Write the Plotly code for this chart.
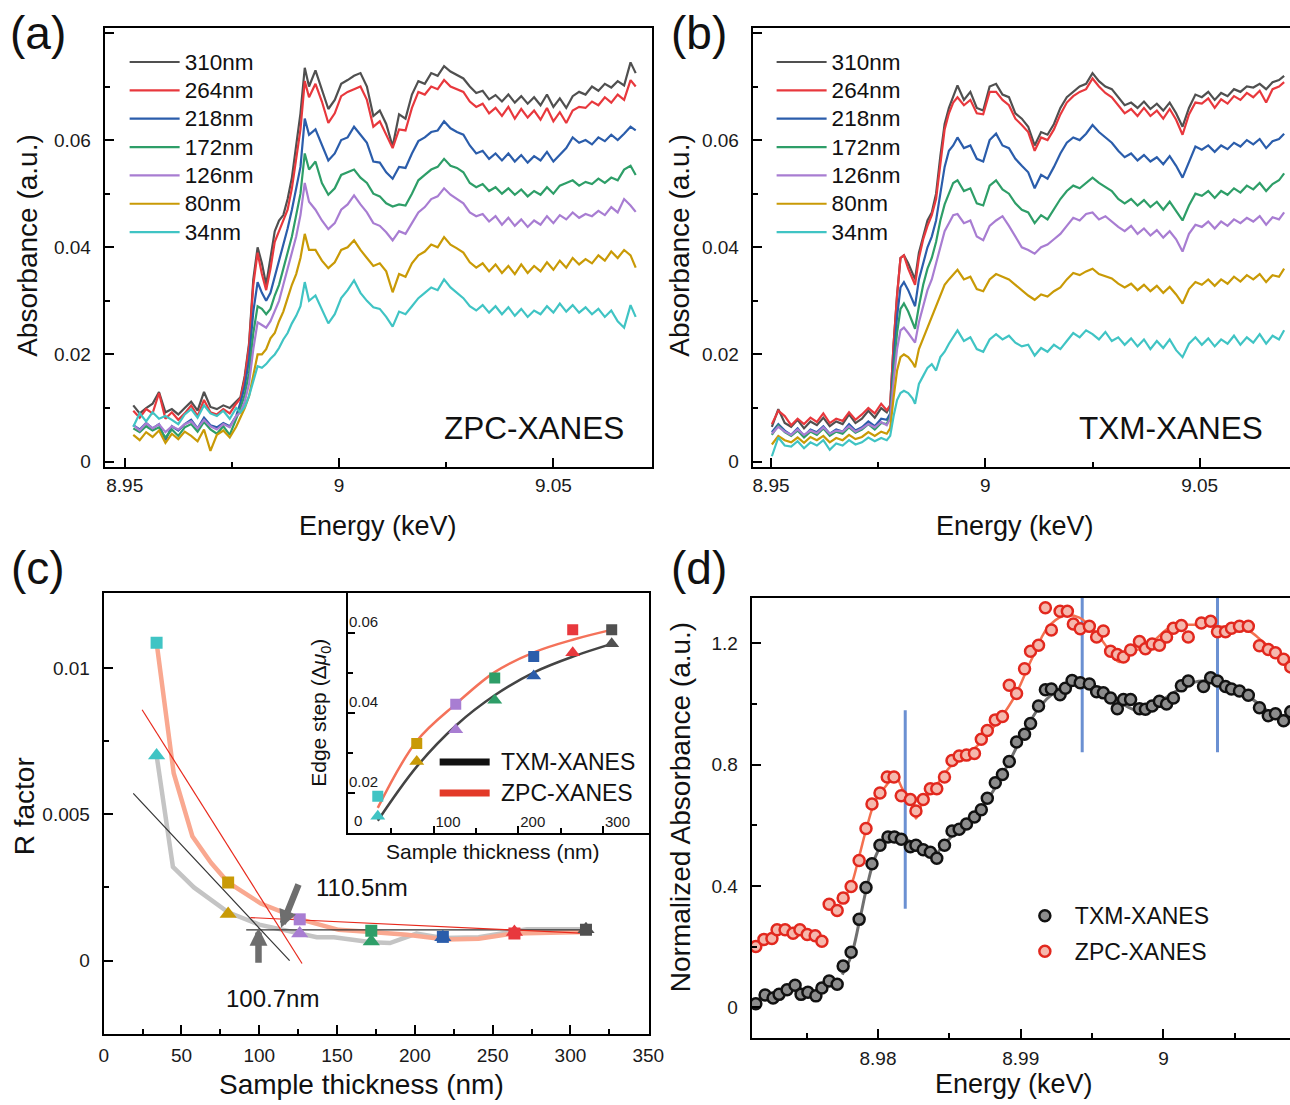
import plotly.graph_objects as go

FONT = "Liberation Sans, Arial, Helvetica, sans-serif"
# target picture size; the page is captured 1306 px wide and fitted to 1290
W_REF, H_REF = 1290, 1105
FW, FH = 1306, 1105


def px(x):
    return min(1.0, x / W_REF)


def py(y):
    return 1 - y / H_REF


def big(s, size):
    return '<span style="font-size:%spx">%s</span>' % (size, s)


LABELS = ['310nm', '264nm', '218nm', '172nm', '126nm', '80nm', '34nm']
COLS = ['#505050', '#e8383d', '#2b5dab', '#2e9e68', '#a87dd2', '#c99a06', '#40c4c4']

# ---------------- panel (a): ZPC-XANES ----------------
E_A = ([8.9520, 8.9535, 8.9550, 8.9565, 8.9580, 8.9595, 8.9610, 8.9625, 8.9640, 8.9655,
        8.9670, 8.9685, 8.9700, 8.9715, 8.9730, 8.9745, 8.9760]
       + [8.9770, 8.9780, 8.9790, 8.9800, 8.9810, 8.9820, 8.9830, 8.9840, 8.9850, 8.9860,
          8.9870, 8.9880, 8.9890, 8.9900, 8.9910, 8.9920, 8.9930]
       + [8.9945, 8.9960, 8.9975, 8.9990, 9.0005, 9.0020, 9.0035, 9.0050, 9.0065, 9.0080,
          9.0095, 9.0110, 9.0125, 9.0140, 9.0155, 9.0170, 9.0185, 9.0200, 9.0215, 9.0230,
          9.0245, 9.0260, 9.0275, 9.0290, 9.0305, 9.0320, 9.0335, 9.0350, 9.0365, 9.0380,
          9.0395, 9.0410, 9.0425, 9.0440, 9.0455, 9.0470, 9.0485, 9.0500, 9.0515, 9.0530,
          9.0545, 9.0560, 9.0575, 9.0590, 9.0605, 9.0620, 9.0635, 9.0650, 9.0665, 9.0680,
          9.0692])

A_310 = ([0.0105, 0.0090, 0.0100, 0.0108, 0.0130, 0.0092, 0.0098, 0.0088, 0.0100, 0.0112,
          0.0095, 0.0130, 0.0102, 0.0098, 0.0105, 0.0100, 0.0112]
         + [0.0120, 0.0160, 0.0220, 0.0340, 0.0400, 0.0370, 0.0330, 0.0380, 0.0430, 0.0450,
            0.0460, 0.0490, 0.0530, 0.0590, 0.0650, 0.0735, 0.0700]
         + [0.0730, 0.0695, 0.0658, 0.0675, 0.0705, 0.0712, 0.0720, 0.0725, 0.0700, 0.0645,
            0.0655, 0.0630, 0.0588, 0.0648, 0.0640, 0.0685, 0.0710, 0.0705, 0.0725, 0.0720,
            0.0738, 0.0728, 0.0722, 0.0715, 0.0700, 0.0688, 0.0692, 0.0676, 0.0684, 0.0672,
            0.0685, 0.0670, 0.0682, 0.0668, 0.0680, 0.0665, 0.0685, 0.0662, 0.0678, 0.0660,
            0.0682, 0.0690, 0.0685, 0.0700, 0.0692, 0.0705, 0.0698, 0.0710, 0.0702, 0.0745,
            0.0725])
A_264 = ([0.0095, 0.0082, 0.0098, 0.0090, 0.0128, 0.0080, 0.0092, 0.0078, 0.0090, 0.0105,
          0.0085, 0.0115, 0.0092, 0.0088, 0.0098, 0.0090, 0.0108]
         + [0.0118, 0.0155, 0.0215, 0.0330, 0.0390, 0.0350, 0.0320, 0.0360, 0.0410, 0.0430,
            0.0450, 0.0470, 0.0510, 0.0570, 0.0620, 0.0710, 0.0680]
         + [0.0705, 0.0672, 0.0632, 0.0650, 0.0682, 0.0690, 0.0695, 0.0700, 0.0675, 0.0625,
            0.0635, 0.0610, 0.0585, 0.0620, 0.0618, 0.0660, 0.0690, 0.0685, 0.0700, 0.0695,
            0.0712, 0.0700, 0.0695, 0.0690, 0.0672, 0.0662, 0.0668, 0.0650, 0.0660, 0.0645,
            0.0662, 0.0640, 0.0658, 0.0642, 0.0655, 0.0638, 0.0660, 0.0635, 0.0652, 0.0632,
            0.0655, 0.0662, 0.0660, 0.0672, 0.0665, 0.0680, 0.0670, 0.0685, 0.0675, 0.0712,
            0.0700])
A_218 = ([0.0068, 0.0060, 0.0072, 0.0062, 0.0070, 0.0040, 0.0066, 0.0058, 0.0070, 0.0078,
          0.0062, 0.0082, 0.0068, 0.0064, 0.0072, 0.0066, 0.0085]
         + [0.0110, 0.0140, 0.0190, 0.0280, 0.0335, 0.0315, 0.0300, 0.0315, 0.0345, 0.0370,
            0.0400, 0.0435, 0.0470, 0.0510, 0.0550, 0.0640, 0.0610]
         + [0.0620, 0.0590, 0.0562, 0.0575, 0.0600, 0.0605, 0.0625, 0.0610, 0.0595, 0.0560,
            0.0558, 0.0540, 0.0528, 0.0550, 0.0548, 0.0575, 0.0598, 0.0605, 0.0615, 0.0618,
            0.0635, 0.0622, 0.0615, 0.0610, 0.0590, 0.0575, 0.0580, 0.0565, 0.0575, 0.0562,
            0.0575, 0.0560, 0.0572, 0.0558, 0.0570, 0.0562, 0.0578, 0.0560, 0.0572, 0.0585,
            0.0605, 0.0595, 0.0600, 0.0592, 0.0605, 0.0598, 0.0610, 0.0600, 0.0612, 0.0625,
            0.0618])
A_172 = ([0.0062, 0.0055, 0.0066, 0.0058, 0.0064, 0.0045, 0.0060, 0.0048, 0.0064, 0.0070,
          0.0056, 0.0074, 0.0060, 0.0052, 0.0066, 0.0050, 0.0080]
         + [0.0100, 0.0125, 0.0165, 0.0240, 0.0290, 0.0285, 0.0275, 0.0285, 0.0310, 0.0330,
            0.0360, 0.0390, 0.0420, 0.0460, 0.0500, 0.0575, 0.0545]
         + [0.0560, 0.0520, 0.0498, 0.0510, 0.0535, 0.0540, 0.0545, 0.0530, 0.0520, 0.0500,
            0.0495, 0.0482, 0.0476, 0.0480, 0.0478, 0.0500, 0.0525, 0.0535, 0.0545, 0.0550,
            0.0565, 0.0552, 0.0548, 0.0540, 0.0520, 0.0512, 0.0518, 0.0505, 0.0512, 0.0500,
            0.0510, 0.0498, 0.0508, 0.0495, 0.0505, 0.0498, 0.0512, 0.0500, 0.0515, 0.0520,
            0.0525, 0.0515, 0.0522, 0.0518, 0.0528, 0.0520, 0.0530, 0.0525, 0.0545, 0.0552,
            0.0535])
A_126 = ([0.0068, 0.0058, 0.0072, 0.0062, 0.0070, 0.0055, 0.0066, 0.0060, 0.0070, 0.0075,
          0.0062, 0.0078, 0.0066, 0.0060, 0.0070, 0.0064, 0.0085]
         + [0.0092, 0.0112, 0.0145, 0.0210, 0.0260, 0.0255, 0.0250, 0.0262, 0.0280, 0.0300,
            0.0330, 0.0360, 0.0390, 0.0420, 0.0460, 0.0520, 0.0485]
         + [0.0470, 0.0450, 0.0434, 0.0445, 0.0470, 0.0480, 0.0497, 0.0480, 0.0465, 0.0445,
            0.0440, 0.0428, 0.0413, 0.0430, 0.0425, 0.0445, 0.0465, 0.0475, 0.0490, 0.0495,
            0.0510, 0.0498, 0.0490, 0.0482, 0.0465, 0.0458, 0.0462, 0.0448, 0.0458, 0.0442,
            0.0455, 0.0440, 0.0452, 0.0438, 0.0450, 0.0442, 0.0458, 0.0445, 0.0460, 0.0452,
            0.0465, 0.0455, 0.0462, 0.0458, 0.0468, 0.0460, 0.0475, 0.0465, 0.0490, 0.0478,
            0.0466])
A_80 = ([0.0050, 0.0040, 0.0055, 0.0046, 0.0058, 0.0035, 0.0052, 0.0042, 0.0056, 0.0048,
         0.0038, 0.0060, 0.0020, 0.0050, 0.0058, 0.0045, 0.0065]
        + [0.0082, 0.0100, 0.0122, 0.0160, 0.0200, 0.0200, 0.0210, 0.0230, 0.0240, 0.0262,
           0.0280, 0.0305, 0.0330, 0.0350, 0.0380, 0.0425, 0.0395]
        + [0.0395, 0.0375, 0.0361, 0.0372, 0.0395, 0.0400, 0.0413, 0.0395, 0.0380, 0.0365,
           0.0370, 0.0355, 0.0316, 0.0350, 0.0345, 0.0370, 0.0385, 0.0392, 0.0405, 0.0400,
           0.0419, 0.0405, 0.0398, 0.0390, 0.0372, 0.0362, 0.0370, 0.0355, 0.0368, 0.0352,
           0.0365, 0.0350, 0.0368, 0.0352, 0.0365, 0.0355, 0.0372, 0.0358, 0.0375, 0.0362,
           0.0380, 0.0368, 0.0378, 0.0370, 0.0385, 0.0375, 0.0392, 0.0380, 0.0395, 0.0385,
           0.0362])
A_34 = ([0.0065, 0.0090, 0.0075, 0.0092, 0.0080, 0.0085, 0.0078, 0.0070, 0.0088, 0.0098,
         0.0082, 0.0105, 0.0090, 0.0085, 0.0095, 0.0080, 0.0100]
        + [0.0092, 0.0102, 0.0122, 0.0150, 0.0178, 0.0175, 0.0182, 0.0192, 0.0200, 0.0212,
           0.0228, 0.0240, 0.0258, 0.0272, 0.0290, 0.0335, 0.0300]
        + [0.0310, 0.0285, 0.0258, 0.0275, 0.0305, 0.0320, 0.0338, 0.0315, 0.0300, 0.0288,
           0.0285, 0.0270, 0.0252, 0.0280, 0.0275, 0.0290, 0.0305, 0.0315, 0.0325, 0.0320,
           0.0340, 0.0325, 0.0315, 0.0305, 0.0290, 0.0282, 0.0292, 0.0278, 0.0290, 0.0275,
           0.0288, 0.0272, 0.0285, 0.0270, 0.0282, 0.0275, 0.0290, 0.0278, 0.0295, 0.0280,
           0.0292, 0.0278, 0.0288, 0.0275, 0.0285, 0.0270, 0.0282, 0.0262, 0.0250, 0.0292,
           0.0270])
A_SERIES = [A_310, A_264, A_218, A_172, A_126, A_80, A_34]

# ---------------- panel (b): TXM-XANES ----------------
E_B = ([8.9502, 8.9517, 8.9532, 8.9547, 8.9562, 8.9577, 8.9592, 8.9607, 8.9622, 8.9637,
        8.9652, 8.9667, 8.9682, 8.9697, 8.9712, 8.9727, 8.9742, 8.9757, 8.9770]
       + [8.9778, 8.9786, 8.9794, 8.9802, 8.9810, 8.9820, 8.9830, 8.9836, 8.9845, 8.9855,
          8.9865, 8.9875, 8.9885, 8.9895, 8.9905, 8.9915, 8.9925, 8.9935]
       + [8.9950, 8.9965, 8.9980, 8.9995, 9.0010, 9.0025, 9.0040, 9.0055, 9.0070, 9.0085,
          9.0100, 9.0115, 9.0130, 9.0145, 9.0160, 9.0175, 9.0190, 9.0205, 9.0220, 9.0235,
          9.0250, 9.0265, 9.0280, 9.0295, 9.0310, 9.0325, 9.0340, 9.0355, 9.0370, 9.0385,
          9.0400, 9.0415, 9.0430, 9.0445, 9.0460, 9.0475, 9.0490, 9.0505, 9.0520, 9.0535,
          9.0550, 9.0565, 9.0580, 9.0595, 9.0610, 9.0625, 9.0640, 9.0655, 9.0670, 9.0685,
          9.0697])

B_310 = ([0.0065, 0.0098, 0.0072, 0.0065, 0.0078, 0.0062, 0.0075, 0.0068, 0.0082, 0.0066,
          0.0075, 0.0070, 0.0088, 0.0072, 0.0080, 0.0095, 0.0082, 0.0100, 0.0092]
         + [0.0105, 0.0220, 0.0310, 0.0380, 0.0385, 0.0370, 0.0350, 0.0340, 0.0390, 0.0420,
            0.0450, 0.0465, 0.0500, 0.0570, 0.0630, 0.0660, 0.0680, 0.0702]
         + [0.0675, 0.0690, 0.0660, 0.0655, 0.0700, 0.0705, 0.0685, 0.0680, 0.0650, 0.0640,
            0.0625, 0.0590, 0.0615, 0.0610, 0.0630, 0.0660, 0.0680, 0.0690, 0.0700, 0.0705,
            0.0725, 0.0710, 0.0700, 0.0695, 0.0680, 0.0665, 0.0670, 0.0660, 0.0672, 0.0658,
            0.0668, 0.0655, 0.0670, 0.0650, 0.0625, 0.0660, 0.0685, 0.0680, 0.0690, 0.0675,
            0.0688, 0.0682, 0.0695, 0.0690, 0.0700, 0.0698, 0.0705, 0.0695, 0.0708, 0.0712,
            0.0720])
B_264 = ([0.0070, 0.0095, 0.0085, 0.0068, 0.0080, 0.0070, 0.0082, 0.0074, 0.0090, 0.0072,
          0.0080, 0.0076, 0.0092, 0.0078, 0.0088, 0.0100, 0.0090, 0.0108, 0.0096]
         + [0.0105, 0.0220, 0.0310, 0.0380, 0.0385, 0.0360, 0.0340, 0.0330, 0.0380, 0.0415,
            0.0440, 0.0460, 0.0490, 0.0560, 0.0620, 0.0650, 0.0670, 0.0680]
         + [0.0665, 0.0675, 0.0650, 0.0648, 0.0690, 0.0690, 0.0675, 0.0665, 0.0640, 0.0628,
            0.0615, 0.0580, 0.0605, 0.0600, 0.0620, 0.0648, 0.0670, 0.0682, 0.0690, 0.0695,
            0.0715, 0.0700, 0.0688, 0.0680, 0.0665, 0.0650, 0.0658, 0.0645, 0.0660, 0.0645,
            0.0655, 0.0640, 0.0658, 0.0638, 0.0610, 0.0648, 0.0670, 0.0668, 0.0678, 0.0660,
            0.0676, 0.0668, 0.0682, 0.0675, 0.0688, 0.0680, 0.0692, 0.0670, 0.0695, 0.0700,
            0.0708])
B_218 = ([0.0055, 0.0070, 0.0058, 0.0050, 0.0062, 0.0048, 0.0060, 0.0055, 0.0066, 0.0052,
          0.0060, 0.0056, 0.0070, 0.0058, 0.0064, 0.0075, 0.0066, 0.0080, 0.0078]
         + [0.0090, 0.0190, 0.0270, 0.0325, 0.0335, 0.0320, 0.0300, 0.0290, 0.0340, 0.0370,
            0.0400, 0.0420, 0.0450, 0.0500, 0.0550, 0.0580, 0.0590, 0.0605]
         + [0.0585, 0.0590, 0.0565, 0.0560, 0.0600, 0.0612, 0.0590, 0.0585, 0.0565, 0.0552,
            0.0540, 0.0510, 0.0535, 0.0528, 0.0550, 0.0575, 0.0595, 0.0605, 0.0600, 0.0612,
            0.0628, 0.0615, 0.0605, 0.0595, 0.0580, 0.0568, 0.0575, 0.0562, 0.0572, 0.0560,
            0.0568, 0.0555, 0.0570, 0.0552, 0.0530, 0.0560, 0.0588, 0.0582, 0.0590, 0.0578,
            0.0590, 0.0583, 0.0595, 0.0588, 0.0600, 0.0592, 0.0602, 0.0585, 0.0598, 0.0602,
            0.0612])
B_172 = ([0.0050, 0.0068, 0.0055, 0.0048, 0.0058, 0.0045, 0.0056, 0.0050, 0.0062, 0.0048,
          0.0056, 0.0052, 0.0064, 0.0054, 0.0060, 0.0070, 0.0060, 0.0072, 0.0070]
         + [0.0085, 0.0170, 0.0240, 0.0285, 0.0295, 0.0280, 0.0260, 0.0248, 0.0290, 0.0330,
            0.0360, 0.0380, 0.0410, 0.0450, 0.0480, 0.0500, 0.0520, 0.0525]
         + [0.0505, 0.0510, 0.0482, 0.0478, 0.0515, 0.0525, 0.0508, 0.0500, 0.0482, 0.0470,
            0.0465, 0.0445, 0.0460, 0.0452, 0.0470, 0.0490, 0.0505, 0.0515, 0.0510, 0.0520,
            0.0530, 0.0520, 0.0512, 0.0505, 0.0490, 0.0482, 0.0490, 0.0478, 0.0488, 0.0475,
            0.0485, 0.0470, 0.0485, 0.0468, 0.0450, 0.0478, 0.0500, 0.0496, 0.0505, 0.0492,
            0.0505, 0.0498, 0.0510, 0.0502, 0.0515, 0.0508, 0.0520, 0.0505, 0.0518, 0.0525,
            0.0538])
B_126 = ([0.0052, 0.0065, 0.0056, 0.0050, 0.0060, 0.0050, 0.0058, 0.0053, 0.0064, 0.0052,
          0.0058, 0.0056, 0.0066, 0.0056, 0.0062, 0.0070, 0.0064, 0.0074, 0.0068]
         + [0.0080, 0.0150, 0.0210, 0.0245, 0.0250, 0.0240, 0.0228, 0.0222, 0.0260, 0.0290,
            0.0320, 0.0340, 0.0370, 0.0400, 0.0430, 0.0445, 0.0460, 0.0462]
         + [0.0445, 0.0450, 0.0420, 0.0413, 0.0440, 0.0450, 0.0458, 0.0440, 0.0420, 0.0400,
            0.0395, 0.0388, 0.0400, 0.0405, 0.0415, 0.0425, 0.0440, 0.0455, 0.0450, 0.0462,
            0.0465, 0.0452, 0.0458, 0.0448, 0.0438, 0.0430, 0.0440, 0.0425, 0.0435, 0.0422,
            0.0432, 0.0418, 0.0430, 0.0415, 0.0392, 0.0425, 0.0442, 0.0438, 0.0448, 0.0435,
            0.0448, 0.0440, 0.0452, 0.0445, 0.0455, 0.0448, 0.0458, 0.0442, 0.0456, 0.0452,
            0.0465])
B_80 = ([0.0032, 0.0048, 0.0040, 0.0036, 0.0045, 0.0035, 0.0046, 0.0040, 0.0048, 0.0036,
         0.0044, 0.0040, 0.0050, 0.0042, 0.0046, 0.0055, 0.0048, 0.0056, 0.0052]
        + [0.0062, 0.0120, 0.0170, 0.0195, 0.0200, 0.0195, 0.0185, 0.0176, 0.0210, 0.0230,
           0.0250, 0.0270, 0.0290, 0.0310, 0.0330, 0.0340, 0.0350, 0.0358]
        + [0.0340, 0.0345, 0.0322, 0.0318, 0.0340, 0.0350, 0.0345, 0.0340, 0.0330, 0.0320,
           0.0310, 0.0302, 0.0312, 0.0308, 0.0318, 0.0325, 0.0340, 0.0352, 0.0348, 0.0355,
           0.0360, 0.0350, 0.0346, 0.0342, 0.0332, 0.0325, 0.0332, 0.0320, 0.0330, 0.0318,
           0.0328, 0.0315, 0.0326, 0.0312, 0.0295, 0.0322, 0.0335, 0.0330, 0.0340, 0.0328,
           0.0340, 0.0332, 0.0345, 0.0336, 0.0348, 0.0340, 0.0350, 0.0335, 0.0348, 0.0345,
           0.0360])
B_34 = ([0.0010, 0.0045, 0.0030, 0.0028, 0.0038, 0.0025, 0.0036, 0.0030, 0.0040, 0.0022,
         0.0034, 0.0030, 0.0040, 0.0032, 0.0036, 0.0045, 0.0038, 0.0044, 0.0040]
        + [0.0048, 0.0085, 0.0115, 0.0128, 0.0132, 0.0128, 0.0118, 0.0108, 0.0145, 0.0160,
           0.0175, 0.0182, 0.0170, 0.0195, 0.0205, 0.0220, 0.0232, 0.0245]
        + [0.0225, 0.0232, 0.0210, 0.0205, 0.0228, 0.0238, 0.0228, 0.0235, 0.0222, 0.0215,
           0.0218, 0.0198, 0.0212, 0.0205, 0.0218, 0.0210, 0.0225, 0.0240, 0.0232, 0.0245,
           0.0238, 0.0228, 0.0242, 0.0225, 0.0232, 0.0218, 0.0230, 0.0215, 0.0228, 0.0210,
           0.0225, 0.0212, 0.0228, 0.0208, 0.0195, 0.0220, 0.0232, 0.0218, 0.0230, 0.0215,
           0.0228, 0.0220, 0.0235, 0.0218, 0.0232, 0.0222, 0.0238, 0.0220, 0.0235, 0.0228,
           0.0245])
B_SERIES = [B_310, B_264, B_218, B_172, B_126, B_80, B_34]

# ---------------- panel (c): R factor vs thickness ----------------
THICK = [34, 80, 126, 172, 218, 264, 310]
PT_COLS = ['#40c4c4', '#c99a06', '#a87dd2', '#2e9e68', '#2b5dab', '#e8383d', '#505050']
R_ZPC = [0.01086, 0.00267, 0.00141, 0.00102, 0.00081, 0.00093, 0.00105]
R_TXM = [0.00701, 0.00159, 0.00093, 0.00065, 0.00080, 0.00098, 0.00107]

ZPC_TREND_X = [34, 40, 45, 57, 69, 80, 101, 127, 151, 172, 195, 220, 241, 264, 310]
ZPC_TREND_Y = [0.01086, 0.0085, 0.0064, 0.00425, 0.00334, 0.00267, 0.00195, 0.0014,
               0.00105, 0.00098, 0.00088, 0.00072, 0.00075, 0.00093, 0.00098]
TXM_TREND_X = [34, 44.5, 58, 80, 100, 127, 137, 148, 172, 184, 201, 218, 241, 272, 310]
TXM_TREND_Y = [0.00701, 0.0032, 0.0025, 0.00165, 0.00123, 0.00093, 0.0008, 0.0008,
               0.00063, 0.0006, 0.00092, 0.00077, 0.0008, 0.00107, 0.00107]

FIT_TXM_STEEP_X = [19, 119.5]
FIT_TXM_STEEP_Y = [0.00571, 0.0]
FIT_TXM_FLAT_X = [91.6, 310]
FIT_TXM_FLAT_Y = [0.00105, 0.00105]
FIT_ZPC_STEEP_X = [24.7, 127.5]
FIT_ZPC_STEEP_Y = [0.00857, -0.0001]
FIT_ZPC_FLAT_X = [94.3, 310]
FIT_ZPC_FLAT_Y = [0.00147, 0.00093]

# arrows marking the two intersections: (tail x, tail R, tip x, tip R)
ARROW_110 = [125.6, 0.00265, 114.0, 0.00112]
ARROW_100 = [99.5, -0.00012, 99.5, 0.00112]

# inset: edge step vs thickness
STEP_ZPC = [0.0192, 0.0324, 0.0422, 0.0487, 0.0541, 0.0608, 0.0608]
STEP_TXM = [0.0142, 0.0279, 0.0358, 0.0432, 0.0492, 0.0550, 0.0573]
STEPFIT_X = [34, 80, 127, 172, 219, 266, 311]
STEPFIT_ZPC = [0.0163, 0.0330, 0.0424, 0.0502, 0.0552, 0.0584, 0.0608]
STEPFIT_TXM = [0.0131, 0.0266, 0.0370, 0.0444, 0.0502, 0.0542, 0.0573]

# ---------------- panel (d): normalized spectra ----------------
E_D_TXM = [8.97144, 8.97209, 8.97265, 8.97307, 8.97363, 8.97419, 8.97461, 8.97509, 8.97565, 8.97607,
           8.97658, 8.97714, 8.97756, 8.97812, 8.97868, 8.97916, 8.97958, 8.98014, 8.98070, 8.98115,
           8.98163, 8.98227, 8.98266, 8.98317, 8.98367, 8.98412, 8.98466, 8.98519, 8.98569, 8.98620,
           8.98676, 8.98724, 8.98766, 8.98822, 8.98872, 8.98920, 8.98971, 8.99027, 8.99069, 8.99125,
           8.99173, 8.99215, 8.99276, 8.99313, 8.99360, 8.99417, 8.99481, 8.99532, 8.99579, 8.99630,
           8.99677, 8.99720, 8.99770, 8.99832, 8.99874, 8.99921, 8.99972, 9.00022, 9.00070, 9.00126,
           9.00174, 9.00281, 9.00331, 9.00379, 9.00435, 9.00477, 9.00533, 9.00595, 9.00673, 9.00735,
           9.00785, 9.00842, 9.00892]
D_TXM = [0.012, 0.041, 0.031, 0.043, 0.058, 0.073, 0.043, 0.050, 0.038, 0.064,
         0.087, 0.076, 0.136, 0.182, 0.290, 0.395, 0.473, 0.534, 0.561, 0.561,
         0.554, 0.529, 0.534, 0.519, 0.511, 0.491, 0.534, 0.581, 0.587, 0.604,
         0.627, 0.651, 0.689, 0.740, 0.767, 0.810, 0.874, 0.900, 0.935, 0.993,
         1.046, 1.049, 1.030, 1.051, 1.077, 1.069, 1.065, 1.040, 1.036, 1.019,
         0.984, 1.014, 1.014, 0.984, 0.982, 0.993, 1.008, 0.999, 1.019, 1.059,
         1.075, 1.057, 1.086, 1.075, 1.057, 1.049, 1.042, 1.028, 0.987, 0.961,
         0.967, 0.944, 0.974]
E_D_ZPC = [8.97144, 8.97201, 8.97257, 8.97293, 8.97349, 8.97405, 8.97453, 8.97504, 8.97560, 8.97607,
           8.97658, 8.97714, 8.97756, 8.97812, 8.97868, 8.97916, 8.97958, 8.98014, 8.98065, 8.98112,
           8.98163, 8.98227, 8.98266, 8.98317, 8.98367, 8.98412, 8.98466, 8.98519, 8.98569, 8.98620,
           8.98676, 8.98724, 8.98766, 8.98822, 8.98872, 8.98920, 8.98971, 8.99027, 8.99069, 8.99125,
           8.99173, 8.99215, 8.99276, 8.99327, 8.99369, 8.99417, 8.99481, 8.99532, 8.99579, 8.99630,
           8.99677, 8.99720, 8.99770, 8.99832, 8.99874, 8.99921, 8.99972, 9.00022, 9.00070, 9.00126,
           9.00174, 9.00266, 9.00331, 9.00379, 9.00435, 9.00477, 9.00533, 9.00595, 9.00673, 9.00735,
           9.00785, 9.00842, 9.00892]
D_ZPC = [0.201, 0.224, 0.227, 0.256, 0.256, 0.244, 0.256, 0.240, 0.236, 0.218,
         0.340, 0.319, 0.360, 0.398, 0.484, 0.589, 0.670, 0.706, 0.759, 0.759,
         0.697, 0.685, 0.647, 0.685, 0.720, 0.720, 0.759, 0.813, 0.828, 0.831,
         0.836, 0.883, 0.912, 0.947, 0.958, 1.061, 1.034, 1.115, 1.173, 1.193,
         1.316, 1.243, 1.305, 1.305, 1.263, 1.247, 1.255, 1.220, 1.240, 1.173,
         1.162, 1.154, 1.177, 1.205, 1.181, 1.197, 1.193, 1.220, 1.249, 1.258,
         1.220, 1.266, 1.272, 1.237, 1.237, 1.249, 1.255, 1.255, 1.191, 1.179,
         1.168, 1.147, 1.121]
E_SM_TXM = [8.97750, 8.97812, 8.97868, 8.97924, 8.97980, 8.98050, 8.98121, 8.98205, 8.98317, 8.98401,
            8.98457, 8.98569, 8.98682, 8.98794, 8.98906, 8.99018, 8.99130, 8.99243, 8.99355, 8.99467,
            8.99579, 8.99691, 8.99832, 8.99944, 9.00084, 9.00196, 9.00337, 9.00477, 9.00617, 9.00757,
            9.00892]
SM_TXM = [0.108, 0.169, 0.279, 0.401, 0.494, 0.552, 0.575, 0.552, 0.523, 0.505,
          0.534, 0.587, 0.633, 0.703, 0.796, 0.900, 0.988, 1.040, 1.069, 1.069,
          1.040, 1.005, 0.976, 0.999, 1.040, 1.069, 1.075, 1.052, 1.017, 0.970,
          0.958]
E_SM_ZPC = [8.97756, 8.97812, 8.97868, 8.97924, 8.97980, 8.98050, 8.98121, 8.98177, 8.98247, 8.98266,
            8.98317, 8.98401, 8.98513, 8.98626, 8.98738, 8.98850, 8.98962, 8.99074, 8.99186, 8.99299,
            8.99411, 8.99523, 8.99635, 8.99691, 8.99776, 8.99916, 9.00056, 9.00196, 9.00337, 9.00477,
            9.00589, 9.00701, 9.00892]
SM_ZPC = [0.354, 0.402, 0.497, 0.598, 0.679, 0.726, 0.761, 0.715, 0.679, 0.622,
          0.679, 0.726, 0.796, 0.831, 0.883, 0.947, 1.028, 1.144, 1.249, 1.289,
          1.284, 1.237, 1.167, 1.138, 1.167, 1.202, 1.255, 1.260, 1.258, 1.249,
          1.243, 1.203, 1.133]
VLINE_E = [8.98191, 8.99431, 9.00379]
VLINE_LO = [0.325, 0.840, 0.840]
VLINE_HI = [0.979, 1.360, 1.360]

# ================== figure ==================
fig = go.Figure()

for name, col, ys in zip(LABELS, COLS, A_SERIES):
    fig.add_trace(go.Scatter(x=E_A, y=ys, mode='lines', name=big(name, 22.5),
                             line=dict(color=col, width=2.2),
                             xaxis='x', yaxis='y', legend='legend'))
for name, col, ys in zip(LABELS, COLS, B_SERIES):
    fig.add_trace(go.Scatter(x=E_B, y=ys, mode='lines', name=big(name, 22.5),
                             line=dict(color=col, width=2.2),
                             xaxis='x2', yaxis='y2', legend='legend2'))

# (c) main
fig.add_trace(go.Scatter(x=TXM_TREND_X, y=TXM_TREND_Y, mode='lines', showlegend=False,
                         line=dict(color='#c4c4c4', width=4.5), xaxis='x3', yaxis='y3'))
fig.add_trace(go.Scatter(x=ZPC_TREND_X, y=ZPC_TREND_Y, mode='lines', showlegend=False,
                         line=dict(color='#f9a890', width=4.5), xaxis='x3', yaxis='y3'))
for fx, fy, col in [(FIT_TXM_STEEP_X, FIT_TXM_STEEP_Y, '#333333'),
                    (FIT_TXM_FLAT_X, FIT_TXM_FLAT_Y, '#333333'),
                    (FIT_ZPC_STEEP_X, FIT_ZPC_STEEP_Y, '#e8291c'),
                    (FIT_ZPC_FLAT_X, FIT_ZPC_FLAT_Y, '#e8291c')]:
    fig.add_trace(go.Scatter(x=fx, y=fy, mode='lines', showlegend=False,
                             line=dict(color=col, width=1.2), xaxis='x3', yaxis='y3'))
fig.add_trace(go.Scatter(x=THICK, y=R_ZPC, mode='markers', showlegend=False,
                         marker=dict(symbol='square', size=12, color=PT_COLS),
                         xaxis='x3', yaxis='y3'))
fig.add_trace(go.Scatter(x=THICK, y=R_TXM, mode='markers', showlegend=False,
                         marker=dict(symbol='triangle-up', size=15, color=PT_COLS),
                         xaxis='x3', yaxis='y3'))

# (c) inset
fig.add_trace(go.Scatter(x=STEPFIT_X, y=STEPFIT_ZPC, mode='lines', showlegend=False,
                         line=dict(color='#f4725a', width=2.5, shape='spline'),
                         xaxis='x4', yaxis='y4'))
fig.add_trace(go.Scatter(x=STEPFIT_X, y=STEPFIT_TXM, mode='lines', showlegend=False,
                         line=dict(color='#444444', width=2.5, shape='spline'),
                         xaxis='x4', yaxis='y4'))
fig.add_trace(go.Scatter(x=THICK, y=STEP_ZPC, mode='markers', showlegend=False,
                         marker=dict(symbol='square', size=11, color=PT_COLS),
                         xaxis='x4', yaxis='y4'))
fig.add_trace(go.Scatter(x=THICK, y=STEP_TXM, mode='markers', showlegend=False,
                         marker=dict(symbol='triangle-up', size=13, color=PT_COLS),
                         xaxis='x4', yaxis='y4'))
fig.add_trace(go.Scatter(x=[None], y=[None], mode='lines', name=big('\u00a0TXM-XANES', 23),
                         line=dict(color='#111111', width=7), xaxis='x4', yaxis='y4',
                         legend='legend3'))
fig.add_trace(go.Scatter(x=[None], y=[None], mode='lines', name=big('\u00a0ZPC-XANES', 23),
                         line=dict(color='#e33a28', width=7), xaxis='x4', yaxis='y4',
                         legend='legend3'))

# (d)
for e, lo, hi in zip(VLINE_E, VLINE_LO, VLINE_HI):
    fig.add_trace(go.Scatter(x=[e, e], y=[lo, hi], mode='lines', showlegend=False,
                             line=dict(color='#6b90d2', width=3), xaxis='x5', yaxis='y5'))
fig.add_trace(go.Scatter(x=E_SM_TXM, y=SM_TXM, mode='lines', showlegend=False,
                         line=dict(color='#707070', width=3, shape='spline'),
                         xaxis='x5', yaxis='y5'))
fig.add_trace(go.Scatter(x=E_SM_ZPC, y=SM_ZPC, mode='lines', showlegend=False,
                         line=dict(color='#f4704f', width=2.5, shape='spline'),
                         xaxis='x5', yaxis='y5'))
fig.add_trace(go.Scatter(x=E_D_TXM, y=D_TXM, mode='markers', name=big('TXM-XANES', 23),
                         legendgroup='txm',
                         marker=dict(symbol='circle', size=11, color='#8c8c8c',
                                     line=dict(color='#111111', width=2.5)),
                         xaxis='x5', yaxis='y5', legend='legend4'))
fig.add_trace(go.Scatter(x=E_D_ZPC, y=D_ZPC, mode='markers', name=big('ZPC-XANES', 23),
                         legendgroup='zpc',
                         marker=dict(symbol='circle', size=11, color='#f5b8ad',
                                     line=dict(color='#e2281e', width=2.5)),
                         xaxis='x5', yaxis='y5', legend='legend4'))


def ax(domain, rng, tickvals, ticktext, minor_vals, anchor, **kw):
    d = dict(domain=domain, range=rng, anchor=anchor,
             showline=True, linecolor='black', linewidth=2, mirror=True,
             ticks='inside', ticklen=9, tickwidth=1.5, tickcolor='black',
             showgrid=False, zeroline=False,
             tickmode='array', tickvals=tickvals, ticktext=ticktext,
             minor=dict(ticks='inside', ticklen=5, tickwidth=1.5, tickcolor='black',
                        tickmode='array', tickvals=minor_vals),
             tickfont=dict(family=FONT, size=19, color='#1a1a1a'))
    d.update(kw)
    return d


Y_AB_VALS = [0, 0.02, 0.04, 0.06, 0.08]
Y_AB_TEXT = ['0', '0.02', '0.04', '0.06', '']
X_AB_VALS = [8.95, 9.0, 9.05]
X_AB_TEXT = ['8.95', '9', '9.05']
INSET_FONT = dict(family=FONT, size=15, color='#1a1a1a')

layout = dict(
    width=FW, height=FH, margin=dict(l=0, r=0, t=0, b=0), autosize=False,
    paper_bgcolor='white', plot_bgcolor='white',
    font=dict(family=FONT, color='#111111'),
    xaxis=ax([px(100), px(649)], [8.94533, 9.0730], X_AB_VALS, X_AB_TEXT,
             [8.975, 9.025], 'y', ticklabelstandoff=0),
    yaxis=ax([py(469), py(28)], [-0.00098, 0.08094], Y_AB_VALS, Y_AB_TEXT,
             [0.01, 0.03, 0.05, 0.07], 'x', ticklabelstandoff=8),
    xaxis2=ax([px(750), 1.0], [8.94572, 9.0713], X_AB_VALS, X_AB_TEXT,
              [8.975, 9.025], 'y2', ticklabelstandoff=0),
    yaxis2=ax([py(469), py(28)], [-0.00098, 0.08094], Y_AB_VALS, Y_AB_TEXT,
              [0.01, 0.03, 0.05, 0.07], 'x2', ticklabelstandoff=8),
    xaxis3=ax([px(99), px(646)], [0, 350.5], [0, 50, 100, 150, 200, 250, 300, 350],
              ['0', '50', '100', '150', '200', '250', '300', '350'],
              [25, 75, 125, 175, 225, 275, 325], 'y3', ticklabelstandoff=3),
    yaxis3=ax([py(1038.5), py(595.3)], [-0.0025, 0.01257], [0, 0.005, 0.01],
              ['0', '0.005', '0.01'], [0.0025, 0.0075], 'x3', ticklabelstandoff=8),
    xaxis4=ax([px(344), px(646)], [-1.2, 354], [0, 100, 200, 300], ['0', '100', '200', '300'],
              [50, 150, 250], 'y4', ticklabelposition='inside right', ticklen=7,
              tickfont=INSET_FONT),
    yaxis4=ax([py(836.7), py(595.3)], [0.01006, 0.07004], [0.02, 0.04, 0.06],
              ['0.02', '0.04', '0.06'], [0.03, 0.05], 'x4', ticklabelposition='inside top',
              ticklen=7, tickfont=INSET_FONT),
    xaxis5=ax([px(749), 1.0], [8.97115, 9.00894], [8.98, 8.99, 9.0], ['8.98', '8.99', '9'],
              [8.975, 8.985, 8.995, 9.005], 'y5', ticklabelstandoff=2),
    yaxis5=ax([py(1042.7), py(600.3)], [-0.1007, 1.3498], [0, 0.4, 0.8, 1.2],
              ['0', '0.4', '0.8', '1.2'], [0.2, 0.6, 1.0], 'x5', ticklabelstandoff=8),
    legend=dict(x=px(120), y=py(43), xanchor='left', yanchor='top',
                bgcolor='rgba(0,0,0,0)', font=dict(family=FONT, size=19.5, color='#111'),
                itemwidth=50, tracegroupgap=0),
    legend2=dict(x=px(769), y=py(43), xanchor='left', yanchor='top',
                 bgcolor='rgba(0,0,0,0)', font=dict(family=FONT, size=19.5, color='#111'),
                 itemwidth=50, tracegroupgap=0),
    legend3=dict(x=px(431), y=py(745), xanchor='left', yanchor='top',
                 bgcolor='rgba(0,0,0,0)', font=dict(family=FONT, size=21.5, color='#111'),
                 itemwidth=50, tracegroupgap=0),
    legend4=dict(x=px(1013), y=py(899), xanchor='left', yanchor='top',
                 bgcolor='rgba(0,0,0,0)', font=dict(family=FONT, size=22, color='#111'),
                 itemwidth=50, tracegroupgap=4, traceorder='grouped'),
)
fig.update_layout(**layout)

ann = []


def text(x, y, s, size, angle=0):
    ann.append(dict(x=px(x), y=py(y), xref='paper', yref='paper', text=s, showarrow=False,
                    xanchor='center', yanchor='middle', textangle=angle,
                    font=dict(family=FONT, size=size, color='#111111')))


text(33, 33, '(a)', 46)
text(696, 33, '(b)', 46)
text(33, 571, '(c)', 46)
text(696, 571, '(d)', 46)
text(531, 430, 'ZPC-XANES', 31.5)
text(1170, 430, 'TXM-XANES', 31.5)
text(374, 528, 'Energy (keV)', 27)
text(1013, 528, 'Energy (keV)', 27)
text(23, 246, 'Absorbance (a.u.)', 28, -90)
text(677, 246, 'Absorbance (a.u.)', 28, -90)
text(358, 1089, 'Sample thickness (nm)', 28)
text(19, 810, 'R factor', 28, -90)
text(1012, 1089, 'Energy (keV)', 27)
text(677, 811, 'Normalized Absorbance (a.u.)', 28, -90)
text(490, 855, 'Sample thickness (nm)', 21)
text(316, 716, 'Edge step (Δ<i>μ</i><sub>0</sub>)', 21, -90)
text(354, 824, '0', 15)

ann.append(dict(x=166, y=0.00250, xref='x3', yref='y3', text='110.5nm', showarrow=False,
                font=dict(family=FONT, size=24, color='#111111')))
ann.append(dict(x=108.5, y=-0.00128, xref='x3', yref='y3', text='100.7nm', showarrow=False,
                font=dict(family=FONT, size=24, color='#111111')))
for tx, ty, hx, hy in [ARROW_110, ARROW_100]:
    ann.append(dict(x=hx, y=hy, ax=tx, ay=ty, xref='x3', yref='y3',
                    axref='x3', ayref='y3', text='', showarrow=True, arrowhead=2,
                    arrowsize=0.55, arrowwidth=6.5, arrowcolor='#6e6e6e'))
fig.update_layout(annotations=ann)

fig.write_html(
    "out.html",
    config={'displayModeBar': False},
    post_script="document.body.style.margin='0px';document.body.style.padding='0px';"
                "document.body.style.overflow='hidden';",
)
